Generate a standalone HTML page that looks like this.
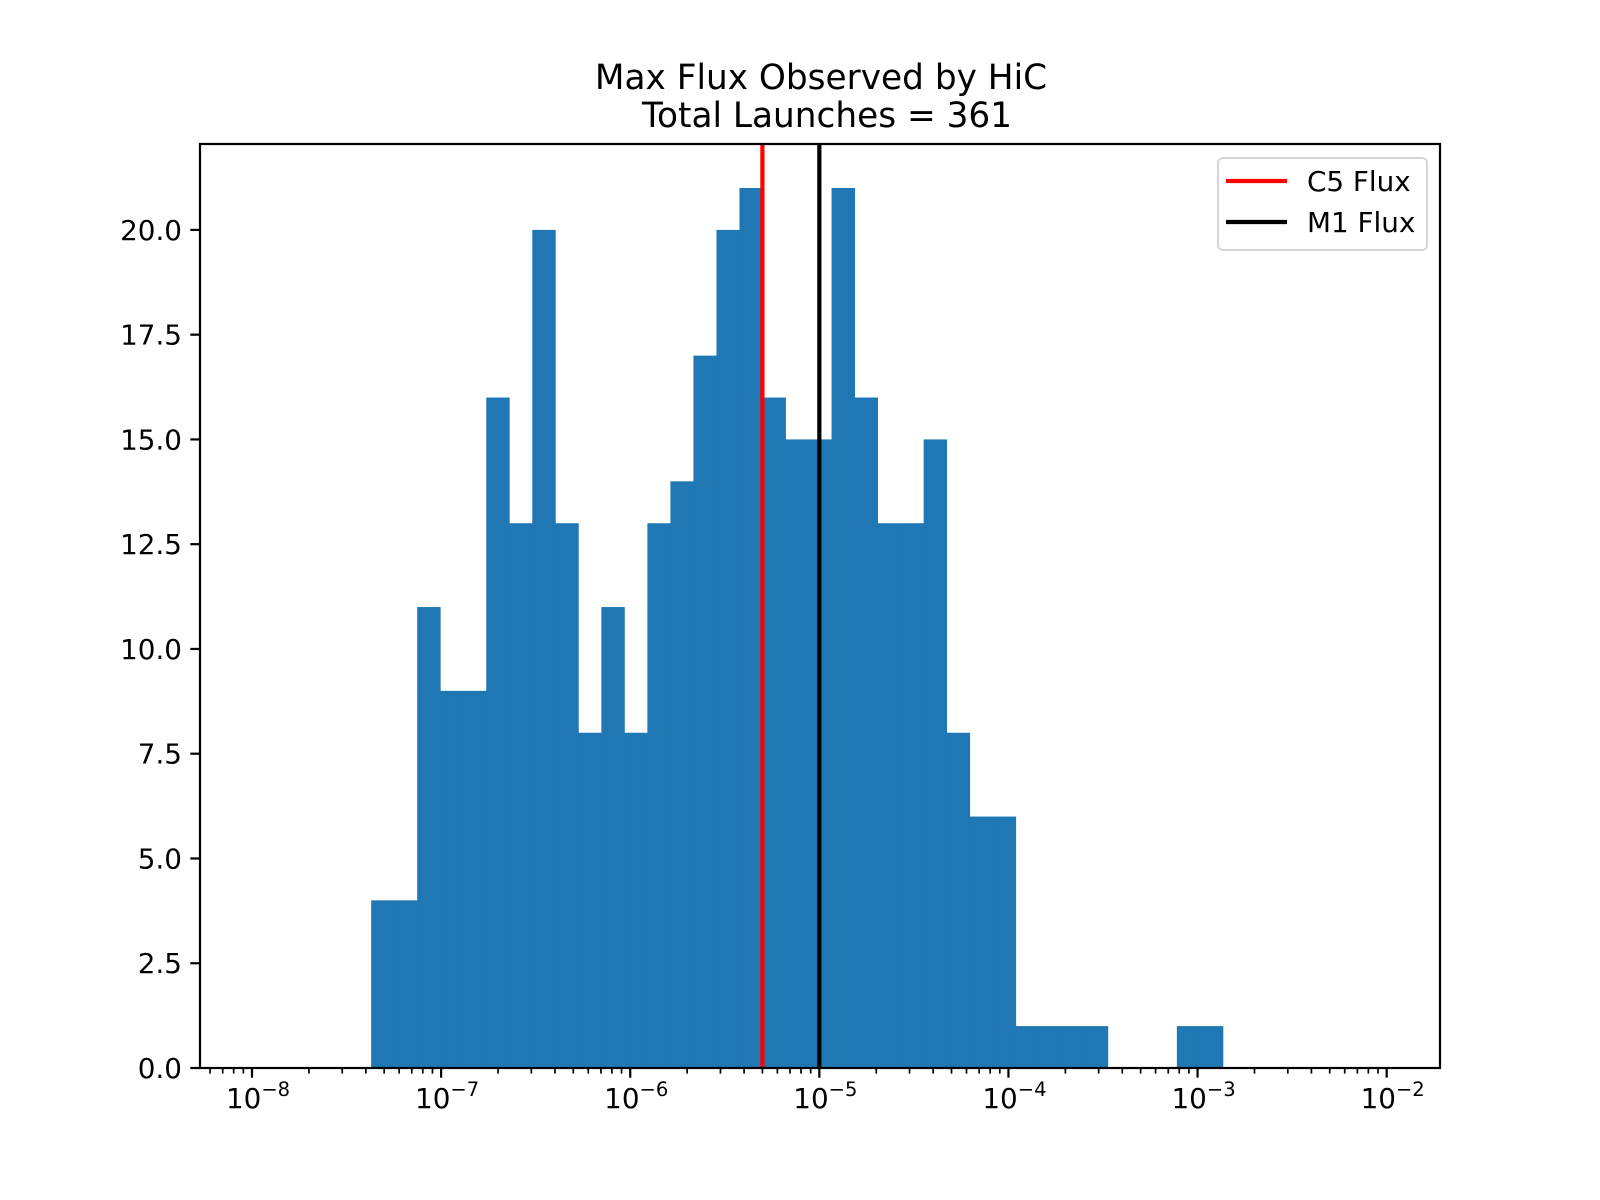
<!DOCTYPE html>
<html><head><meta charset="utf-8"><style>
html,body{margin:0;padding:0;background:#fff;}
svg{display:block;font-family:"DejaVu Sans","Liberation Sans",sans-serif;}
</style></head><body>
<svg id="chart" width="1600" height="1200" viewBox="0 0 1600 1200">
<rect width="1600" height="1200" fill="#fff"/>
<text x="821" y="89" font-size="34.3" text-anchor="middle">Max Flux Observed by HiC</text>
<text x="827" y="127" font-size="34.3" text-anchor="middle">Total Launches = 361</text>
<g id="bars"></g>
<g id="vlines"></g>
<g id="xaxis"></g>
<g id="yaxis"></g>
<rect x="200" y="144" width="1240" height="924" fill="none" stroke="#000" stroke-width="2.2"/>
<g>
<rect x="1218" y="158" width="209" height="92" rx="5" fill="#fff" fill-opacity="0.8" stroke="#d6d6d6" stroke-width="2"/>
<line x1="1226" y1="181" x2="1287" y2="181" stroke="#ff0000" stroke-width="4.2"/>
<text x="1307" y="191" font-size="27.8">C5 Flux</text>
<line x1="1226" y1="222" x2="1287" y2="222" stroke="#000" stroke-width="4.2"/>
<text x="1307" y="232" font-size="27.8">M1 Flux</text>
</g>
</svg>
<script>
const counts = [4,4,11,9,9,16,13,20,13,8,11,8,13,14,17,20,21,16,15,15,21,16,13,13,15,8,6,6,1,1,1,1,0,0,0,1,1];
const binStartExp = -7.370;
const binEndExp = -2.866;
const refLineValues = [5e-6, 1e-5];
const refLineNames = ["c5-flux-line", "m1-flux-line"];
const refLineColors = ["#ff0000", "#000000"];
const yTicks = [0, 2.5, 5, 7.5, 10, 12.5, 15, 17.5, 20];
const xDecades = [-8, -7, -6, -5, -4, -3, -2];

const NS = "http://www.w3.org/2000/svg";
const L = 200, R = 1440, T = 144, B = 1068;
const xMinE = -8.275, xMaxE = -1.718, yMax = 22.05;
const xE = e => L + (e - xMinE) / (xMaxE - xMinE) * (R - L);
const xV = v => xE(Math.log10(v));
const y = v => B - v / yMax * (B - T);
function mk(tag, attrs, parent) {
  const el = document.createElementNS(NS, tag);
  for (const k in attrs) el.setAttribute(k, attrs[k]);
  parent.appendChild(el);
  return el;
}
const bars = document.getElementById("bars");
const w = (binEndExp - binStartExp) / counts.length;
counts.forEach((c, i) => {
  if (c <= 0) return;
  const x0 = xE(binStartExp + i * w), x1 = xE(binStartExp + (i + 1) * w);
  const r = mk("rect", {x: x0, y: y(c), width: x1 - x0 + 0.4, height: B - y(c), fill: "#1f77b4"}, bars);
  
  
});
const vl = document.getElementById("vlines");
refLineValues.forEach((v, i) => {
  const l = mk("line", {x1: xV(v), x2: xV(v), y1: T, y2: B, stroke: refLineColors[i], "stroke-width": 4.2}, vl);
  
  
});
const xa = document.getElementById("xaxis");
for (let d = -9; d <= -1; d++) {
  for (let m = 1; m <= 9; m++) {
    const e = d + Math.log10(m);
    if (e < xMinE || e > xMaxE) continue;
    const len = m === 1 ? 9.7 : 5.6;
    const t = mk("line", {x1: xE(e), x2: xE(e), y1: B, y2: B + len, stroke: "#000", "stroke-width": m === 1 ? 2.2 : 1.7}, xa);
    
    
  }
}
xDecades.forEach(d => {
  const t = mk("text", {x: xE(d) + 6, y: 1108, "font-size": 27.8, "text-anchor": "middle"}, xa);
  
  
  t.textContent = "10";
  const s = mk("tspan", {dy: -12, "font-size": 19.5}, t);
  s.textContent = "\u2212" + Math.abs(d);
});
const ya = document.getElementById("yaxis");
yTicks.forEach(v => {
  const t = mk("line", {x1: L - 9.7, x2: L, y1: y(v), y2: y(v), stroke: "#000", "stroke-width": 2.2}, ya);
  
  
  const tx = mk("text", {x: 182, y: y(v) + 10, "font-size": 27.8, "text-anchor": "end"}, ya);
  
  
  tx.textContent = v.toFixed(1);
});
</script>
</body></html>
